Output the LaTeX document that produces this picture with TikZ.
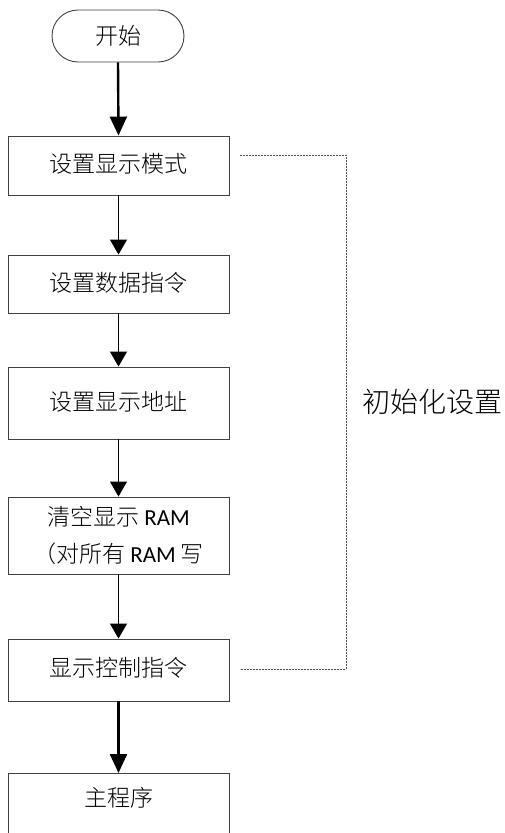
\documentclass[tikz,border=0pt]{standalone}
\usepackage{fontspec}
\setmainfont{Noto Sans CJK SC}[UprightFont=* Light]
\newfontfamily\latinfont{Carlito}
\usetikzlibrary{arrows.meta}
\newcommand{\ram}{{\latinfont RAM}}
\tikzset{
  box/.style={draw=black!75, line width=0.9pt, minimum width=221pt, inner sep=0pt, font=\fontsize{23}{37}\selectfont},
  startbox/.style={draw=black!75, line width=0.9pt, rounded corners=26pt, minimum width=132pt, minimum height=52pt, inner sep=0pt, font=\fontsize{23}{28}\selectfont},
  thinarrow/.style={line width=1.2pt, -{Triangle[width=17pt,length=15pt]}},
  thickarrow/.style={line width=2.4pt, -{Triangle[width=17pt,length=19pt]}},
  groupline/.style={draw=black!70, line width=0.9pt, dash pattern=on 2pt off 1pt},
  grouplabel/.style={font=\fontsize{28}{32}\selectfont, inner sep=0pt}
}
\begin{document}
\begin{tikzpicture}[x=1pt,y=-1pt]
\useasboundingbox (0,0) rectangle (505,833);
\clip (0,0) rectangle (505,833);
\node[startbox] (start) at (118,36) {开始};
\node[box, minimum height=59pt] (b1) at (118.5,165.5) {\raisebox{5pt}{设置显示模式}};
\node[box, minimum height=58pt] (b2) at (118.5,284) {\raisebox{5pt}{设置数据指令}};
\node[box, minimum height=72pt] (b3) at (118.5,403) {\raisebox{5pt}{设置显示地址}};
\node[box, minimum height=77pt, align=center] (b4) at (118.5,535.5) {\raisebox{-4pt}{\parbox{221pt}{\centering 清空显示 \ram\\（对所有 \ram{} 写}}};
\node[box, minimum height=62pt] (b5) at (118.5,670) {\raisebox{6pt}{显示控制指令}};
\node[box, minimum height=120pt, anchor=north] (b6) at (118.5,773) {};
\node[font=\fontsize{23}{28}\selectfont, inner sep=0pt] (t6) at (118.5,798) {主程序};
\draw[thickarrow] (start.south) -- (b1.north);
\draw[thinarrow] (b1.south) -- (b2.north);
\draw[thinarrow] (b2.south) -- (b3.north);
\draw[thinarrow] (b3.south) -- (b4.north);
\draw[thinarrow] (b4.south) -- (b5.north);
\draw[thickarrow] (b5.south) -- (b6.north);
\coordinate (g1) at (240,155);
\coordinate (g2) at (240,669);
\coordinate (gc1) at (346,155);
\coordinate (gc2) at (346,669);
\draw[groupline] (g1) -- (gc1) -- (gc2) -- (g2);
\node[grouplabel, anchor=west] (glabel) at (362,402) {初始化设置};
\end{tikzpicture}
\end{document}
